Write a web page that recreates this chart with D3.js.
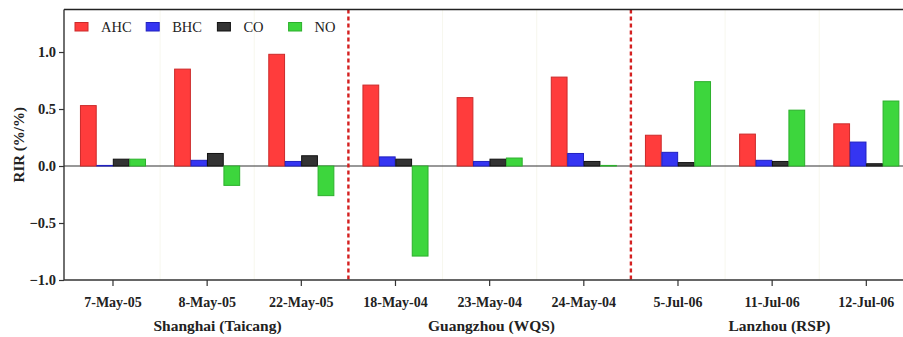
<!DOCTYPE html>
<html>
<head>
<meta charset="utf-8">
<script src="https://cdn.jsdelivr.net/npm/d3@7"></script>
<style>
  html, body { margin: 0; padding: 0; background: #fff; }
  svg { display: block; }
  text { font-family: "Liberation Serif", "DejaVu Serif", serif; }
</style>
</head>
<body>
<svg id="chart" width="903" height="337"></svg>
<script>
// Relative incremental reactivity (RIR) by sampling day and precursor group
const dates = ["7-May-05", "8-May-05", "22-May-05", "18-May-04", "23-May-04", "24-May-04", "5-Jul-06", "11-Jul-06", "12-Jul-06"];
const sites = ["Shanghai (Taicang)", "Guangzhou (WQS)", "Lanzhou (RSP)"];
const seriesNames = ["AHC", "BHC", "CO", "NO"];
const AHC = [0.53, 0.85, 0.98, 0.71, 0.60, 0.78, 0.27, 0.28, 0.37];
const BHC = [0.005, 0.05, 0.04, 0.08, 0.04, 0.11, 0.12, 0.05, 0.21];
const CO  = [0.06, 0.11, 0.09, 0.06, 0.06, 0.04, 0.03, 0.04, 0.02];
const NO  = [0.06, -0.17, -0.26, -0.79, 0.07, 0.005, 0.74, 0.49, 0.57];
const yTicks = [-1.0, -0.5, 0.0, 0.5, 1.0];

const seriesValues = { AHC, BHC, CO, NO };
const fills   = { AHC: "#ff3c3c", BHC: "#3535f2", CO: "#333333", NO: "#3dd63d" };
const strokes = { AHC: "#cc2a2a", BHC: "#2020c0", CO: "#111111", NO: "#2cb02c" };
const serif = "'Liberation Serif', 'DejaVu Serif', serif";

const svg = d3.select("#chart");
const plot = { left: 64, top: 9.5, bottom: 280, bandStart: 65.9, bandEnd: 913.4 };

const x = d3.scaleBand().domain(dates).range([plot.bandStart, plot.bandEnd]).padding(0);
const xInner = d3.scaleBand().domain(seriesNames).range([0, x.bandwidth() * 0.705]).padding(0.04);
const groupOffset = (x.bandwidth() - x.bandwidth() * 0.705) / 2;
const y = d3.scaleLinear().domain([-1.0, 1.373]).range([plot.bottom, plot.top]);

// faint separators between sampling days
const innerBounds = d3.range(1, dates.length).filter(i => i % 3 !== 0);
svg.append("g").selectAll("line").data(innerBounds).join("line")
  .attr("x1", i => x(dates[i])).attr("x2", i => x(dates[i]))
  .attr("y1", plot.top).attr("y2", plot.bottom)
  .attr("stroke", "#eeeedc").attr("stroke-width", 1).attr("stroke-dasharray", "1,1");

// zero reference line
svg.append("line")
  .attr("x1", plot.left).attr("x2", 903)
  .attr("y1", y(0)).attr("y2", y(0))
  .attr("stroke", "#333").attr("stroke-width", 1.2);

// bars
const bars = [];
dates.forEach((d, i) => seriesNames.forEach(s => bars.push({ date: d, series: s, value: seriesValues[s][i] })));
svg.append("g").selectAll("rect").data(bars).join("rect")
  .attr("x", b => x(b.date) + groupOffset + xInner(b.series))
  .attr("width", xInner.bandwidth())
  .attr("y", b => y(Math.max(0, b.value)))
  .attr("height", b => Math.abs(y(b.value) - y(0)))
  .attr("fill", b => fills[b.series])
  .attr("stroke", b => strokes[b.series])
  .attr("stroke-width", 1);

// site dividers
const siteBounds = [3, 6];
svg.append("g").selectAll("line").data(siteBounds).join("line")
  .attr("x1", i => x(dates[i])).attr("x2", i => x(dates[i]))
  .attr("y1", plot.top).attr("y2", plot.bottom)
  .attr("stroke", "#d42020").attr("stroke-width", 2.4).attr("stroke-dasharray", "4,3");

// frame top line
svg.append("line")
  .attr("x1", plot.left).attr("x2", 903)
  .attr("y1", plot.top).attr("y2", plot.top)
  .attr("stroke", "#222").attr("stroke-width", 1.5);

// y axis
const yAxis = svg.append("g")
  .attr("transform", `translate(${plot.left},0)`)
  .call(d3.axisLeft(y).tickValues(yTicks).tickFormat(d3.format(".1f")).tickSize(5).tickSizeOuter(0))
  .attr("font-family", serif);
yAxis.select(".domain").attr("stroke", "#333").attr("stroke-width", 1.4)
  .attr("d", `M0,${plot.top}V${plot.bottom}`);
yAxis.selectAll(".tick line").attr("stroke", "#333").attr("stroke-width", 1.2);
yAxis.selectAll(".tick text")
  .attr("x", -8)
  .style("font-family", serif)
  .style("font-weight", "bold").style("font-size", "14.5px").attr("fill", "#222");

// x axis
const xAxis = svg.append("g")
  .attr("transform", `translate(0,${plot.bottom})`)
  .call(d3.axisBottom(x).tickSize(6).tickSizeOuter(0).tickPadding(11))
  .attr("font-family", serif);
xAxis.select(".domain").attr("stroke", "#333").attr("stroke-width", 1.4)
  .attr("d", `M${plot.left},0H903`);
xAxis.selectAll(".tick line").attr("stroke", "#333").attr("stroke-width", 1.2);
xAxis.selectAll(".tick text")
  .style("font-family", serif)
  .style("font-weight", "bold").style("font-size", "14px").attr("fill", "#222");

// site labels under each group of three days
const siteCenters = [217.5, 491.5, 779.5];
svg.append("g").selectAll("text").data(sites).join("text")
  .attr("x", (s, i) => siteCenters[i]).attr("y", 331)
  .attr("text-anchor", "middle")
  .style("font-family", serif)
  .style("font-weight", "bold").style("font-size", "15.5px").attr("fill", "#222")
  .text(s => s);

// y axis title
svg.append("text")
  .attr("transform", `translate(24,${(plot.top + plot.bottom) / 2}) rotate(-90)`)
  .attr("text-anchor", "middle")
  .style("font-family", serif)
  .style("font-weight", "bold").style("font-size", "15px").attr("fill", "#222")
  .text("RIR (%/%)");

// legend
const legend = svg.append("g").selectAll("g").data(seriesNames).join("g")
  .attr("transform", (s, i) => `translate(${75 + i * 71.2},22.5)`);
legend.append("rect")
  .attr("width", 13).attr("height", 8.5)
  .attr("fill", s => fills[s]).attr("stroke", s => strokes[s]).attr("stroke-width", 1);
legend.append("text")
  .attr("x", 26).attr("y", 9.5)
  .style("font-family", serif)
  .style("font-size", "14.5px").attr("fill", "#222")
  .text(s => s);
</script>
</body>
</html>
